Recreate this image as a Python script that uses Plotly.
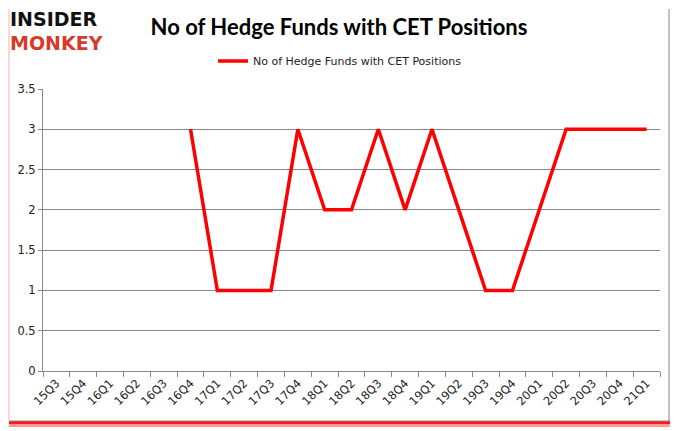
import plotly.graph_objects as go

quarters = ["15Q3", "15Q4", "16Q1", "16Q2", "16Q3", "16Q4", "17Q1", "17Q2", "17Q3", "17Q4",
            "18Q1", "18Q2", "18Q3", "18Q4", "19Q1", "19Q2", "19Q3", "19Q4", "20Q1", "20Q2",
            "20Q3", "20Q4", "21Q1"]
hedge_funds = [None, None, None, None, None, 3, 1, 1, 1, 3,
               2, 2, 3, 2, 3, 2, 1, 1, 2, 3,
               3, 3, 3]
series_name = "No of Hedge Funds with CET Positions"
y_ticks = [0, 0.5, 1, 1.5, 2, 2.5, 3, 3.5]

W, H = 678, 431
OFF = 8  # page body margin offset
# desired plot area in screen pixels
SX0, SX1, SY0, SY1 = 43, 660, 89, 371
L, T = SX0 - OFF, SY0 - OFF
R, B = W - (SX1 - OFF), H - (SY1 - OFF)
pw, ph = W - L - R, H - T - B


def px(x):
    return (x - OFF - L) / pw


def py(y):
    return (H - B - (y - OFF)) / ph


fig = go.Figure()
fig.add_trace(go.Scatter(
    x=quarters, y=hedge_funds, mode="lines", name=series_name,
    line=dict(color="#ff0000", width=3.5), connectgaps=False,
))

fig.update_layout(
    width=W, height=H,
    margin=dict(l=L, r=R, t=T, b=B, autoexpand=False),
    paper_bgcolor="white", plot_bgcolor="white",
    showlegend=True,
    legend=dict(orientation="h", x=px(340), xanchor="center", y=py(61), yanchor="middle",
                font=dict(family="DejaVu Sans", size=11, color="#222"),
                bgcolor="rgba(0,0,0,0)"),
    title=dict(text="<b>No of Hedge Funds with CET Positions</b>", x=(339 - OFF) / W, xanchor="center",
               y=1 - (27 - OFF) / H, yanchor="middle",
               font=dict(family="Lato", size=22, color="black")),
    font=dict(family="DejaVu Sans", size=10, color="#222"),
)
fig.update_xaxes(
    type="category", categoryorder="array", categoryarray=quarters, automargin=False,
    range=[-0.5, 22.5], tickson="boundaries", ticks="outside", ticklen=5,
    tickcolor="#888", showline=True, linecolor="#888", linewidth=1,
    showgrid=False, tickangle=-45, tickfont=dict(size=11.5, family="DejaVu Sans"),
)
fig.update_yaxes(
    range=[0, 3.5], tickvals=y_ticks, ticktext=[f"{v:g}" for v in y_ticks], automargin=False,
    showgrid=True, gridcolor="#888", gridwidth=1,
    showline=True, linecolor="#888", ticks="outside", ticklen=4, tickcolor="#888",
    zeroline=False, tickfont=dict(size=11.5, family="DejaVu Sans"),
)

# logo
fig.add_annotation(xref="paper", yref="paper", x=px(9), y=py(19), xanchor="left", yanchor="middle",
                   text="<b>INSIDER</b>", showarrow=False, borderpad=0,
                   font=dict(family="DejaVu Sans", size=19, color="#111"))
fig.add_annotation(xref="paper", yref="paper", x=px(9), y=py(43), xanchor="left", yanchor="middle",
                   text="<b>MONKEY</b>", showarrow=False, borderpad=0,
                   font=dict(family="DejaVu Sans", size=19, color="#d63a2a"))

# frame with red shadow
fig.add_shape(type="rect", xref="paper", yref="paper", x0=px(9), x1=px(675), y0=py(421), y1=py(424),
              line=dict(width=0), fillcolor="rgba(255,0,0,0.9)", layer="below")
fig.add_shape(type="rect", xref="paper", yref="paper", x0=px(9), x1=px(675), y0=py(424), y1=py(427),
              line=dict(width=0), fillcolor="rgba(255,0,0,0.4)", layer="below")
fig.add_shape(type="rect", xref="paper", yref="paper", x0=px(670), x1=px(674), y0=py(424), y1=py(9),
              line=dict(width=0), fillcolor="rgba(255,120,120,0.5)")
fig.add_shape(type="rect", xref="paper", yref="paper", x0=px(668.5), x1=px(669.5), y0=py(421), y1=py(9),
              line=dict(width=0), fillcolor="#888")
fig.add_shape(type="line", xref="paper", yref="paper", x0=px(9), x1=px(669), y0=py(421), y1=py(421),
              line=dict(color="#888", width=1))
fig.add_shape(type="line", xref="paper", yref="paper", x0=px(9), x1=px(9), y0=py(421), y1=py(9),
              line=dict(color="#f2b0b0", width=1))

fig.write_html("out.html")
